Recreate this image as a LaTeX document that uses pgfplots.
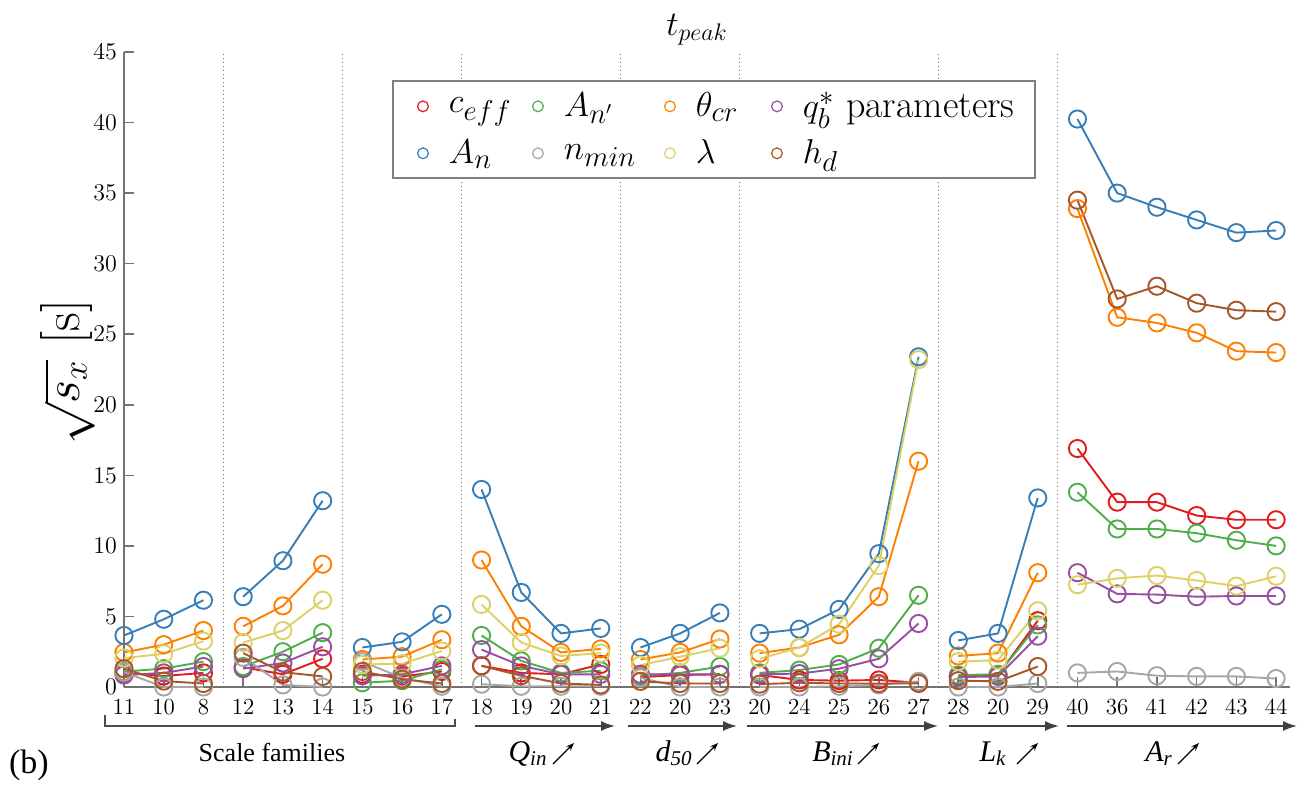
\documentclass[border=0pt]{standalone}
\usepackage{fontspec}
\usepackage{pgfplots}
\usepackage{pgfplotstable}
\pgfplotsset{compat=1.18}
\usetikzlibrary{arrows.meta}
\newfontfamily\timesfont{Liberation Serif}

\definecolor{cRed}{HTML}{E41A1C}
\definecolor{cBlue}{HTML}{377EB8}
\definecolor{cGreen}{HTML}{4DAF4A}
\definecolor{cGray}{HTML}{A6A6A6}
\definecolor{cOrange}{HTML}{FF7F00}
\definecolor{cYellow}{HTML}{DCD066}
\definecolor{cPurple}{HTML}{984EA3}
\definecolor{cBrown}{HTML}{A65628}

% legend text: fixed-width boxes so the four columns line up
\newcommand\LF[2]{\makebox[#1][l]{\fontsize{19}{22}\selectfont #2}}

% sqrt(s_x) of t_peak per parameter; nan rows separate the run groups
\pgfplotstableread{
x    ceff   An     Anp    nmin   theta  lambda qb     hd
0    1.00   3.65   1.10   1.05   2.45   2.05   0.85   1.30
1    0.78   4.80   1.30   0.00   3.00   2.35   1.00   0.42
2    1.00   6.15   1.80   0.00   4.00   3.25   1.45   0.25
2.5  nan    nan    nan    nan    nan    nan    nan    nan
3    1.40   6.40   1.45   2.10   4.30   3.15   1.30   2.40
4    0.90   8.95   2.50   0.15   5.75   4.00   1.70   1.05
5    2.00   13.20  3.85   0.00   8.70   6.15   2.85   0.75
5.5  nan    nan    nan    nan    nan    nan    nan    nan
6    0.90   2.80   0.30   1.80   1.95   1.60   0.80   1.10
7    0.75   3.20   0.45   0.65   2.15   1.65   0.90   0.55
8    1.10   5.15   1.25   0.05   3.35   2.55   1.50   0.25
8.5  nan    nan    nan    nan    nan    nan    nan    nan
9    1.50   14.00  3.65   0.20   9.00   5.85   2.65   1.50
10   1.00   6.70   1.85   0.05   4.30   3.15   1.50   0.80
11   0.90   3.80   1.00   0.05   2.45   2.20   0.90   0.25
12   1.60   4.15   1.15   0.05   2.70   2.40   0.90   0.15
12.5 nan    nan    nan    nan    nan    nan    nan    nan
13   0.70   2.80   0.80   0.65   1.95   1.55   0.90   0.40
14   0.85   3.80   1.00   0.00   2.45   2.15   0.90   0.25
15   0.90   5.25   1.45   0.00   3.40   2.75   0.90   0.25
15.5 nan    nan    nan    nan    nan    nan    nan    nan
16   0.85   3.80   1.00   0.00   2.40   2.00   0.90   0.20
17   0.50   4.10   1.20   0.00   2.80   2.80   0.95   0.30
18   0.45   5.50   1.60   0.05   3.70   4.45   1.30   0.25
19   0.50   9.45   2.75   0.15   6.40   8.60   2.00   0.25
20   0.30   23.40  6.50   0.40   16.00  23.20  4.50   0.25
20.5 nan    nan    nan    nan    nan    nan    nan    nan
21   0.75   3.30   0.85   0.00   2.20   1.80   0.70   0.45
22   0.85   3.80   0.90   0.00   2.40   1.90   0.75   0.40
23   4.70   13.40  4.40   0.25   8.10   5.40   3.60   1.45
23.5 nan    nan    nan    nan    nan    nan    nan    nan
24   16.90  40.25  13.80  1.00   33.90  7.25   8.10   34.50
25   13.10  35.00  11.20  1.10   26.20  7.70   6.60   27.50
26   13.10  34.00  11.20  0.80   25.80  7.90   6.55   28.40
27   12.15  33.10  10.90  0.75   25.10  7.55   6.40   27.20
28   11.85  32.20  10.40  0.75   23.80  7.15   6.45   26.70
29   11.85  32.35  10.00  0.60   23.70  7.85   6.45   26.60
}\tpeak

\begin{document}
\begin{tikzpicture}
\begin{axis}[
  name=ax,
  at={(0,0)}, anchor=south west,
  scale only axis, width=583pt, height=317.5pt,
  xmin=0, xmax=29.35, ymin=0, ymax=45,
  axis x line*=bottom, axis y line*=left,
  axis line style={draw=black!55, line width=0.8pt},
  xtick={0,...,29},
  xticklabels={11,10,8,12,13,14,15,16,17,18,19,20,21,22,20,23,20,24,25,26,27,28,20,29,40,36,41,42,43,44},
  ytick={0,5,...,45},
  tick align=inside,
  major tick length=5pt,
  tick style={draw=black!55, line width=0.8pt},
  tick label style={font=\fontsize{11.5}{13}\selectfont},
  xticklabel style={yshift=-2.5pt},
  clip=false,
  unbounded coords=jump,
  every axis plot/.append style={line width=0.95pt, mark=o, mark size=4.3pt, mark options={solid}},
  legend columns=4,
  legend cell align=left,
  legend style={at={(0.2299,0.956)}, anchor=north west, draw=black!50,
    line width=0.9pt, fill=white, font=\fontsize{19}{22}\selectfont,
    inner xsep=3pt, inner ysep=3.5pt, column sep=0pt, row sep=5.5pt,
    nodes={inner xsep=0pt, inner ysep=2pt}},
  legend image code/.code={
    \path[draw=none] (-12pt,0pt) -- (13pt,0pt);
    \draw[#1, only marks, mark size=2.7pt, line width=0.6pt] plot coordinates {(0pt,0pt)};},
]
% group separators
\pgfplotsinvokeforeach{2.5,5.5,8.5,12.5,15.5,20.5,23.5}{
  \draw[black!60, line width=0.7pt, dash pattern=on 0.6pt off 1.4pt] (axis cs:#1,0) -- (axis cs:#1,45);
}
\addplot[cRed]    table[x=x, y=ceff]   {\tpeak}; \addlegendentry{\LF{32.5pt}{$c_{eff}$}}
\addplot[cGreen]  table[x=x, y=Anp]    {\tpeak}; \addlegendentry{\LF{41pt}{$A_{n'}$}}
\addplot[cOrange] table[x=x, y=theta]  {\tpeak}; \addlegendentry{\LF{28.5pt}{$\theta_{cr}$}}
\addplot[cPurple] table[x=x, y=qb]     {\tpeak}; \addlegendentry{\LF{113pt}{$q_b^*$ parameters}}
\addplot[cBlue]   table[x=x, y=An]     {\tpeak}; \addlegendentry{\LF{32.5pt}{$A_n$}}
\addplot[cGray]   table[x=x, y=nmin]   {\tpeak}; \addlegendentry{\LF{41pt}{$n_{min}$}}
\addplot[cYellow] table[x=x, y=lambda] {\tpeak}; \addlegendentry{\LF{28.5pt}{$\lambda$}}
\addplot[cBrown]  table[x=x, y=hd]     {\tpeak}; \addlegendentry{\LF{113pt}{$h_d$}}
\end{axis}

% annotations in pixel-like units
\begin{scope}[shift={(ax.south west)}, xshift=-62pt, yshift=343.5pt, x=0.5pt, y=-0.5pt]
  \path (0,0) rectangle (1304,785);
  \node[font=\fontsize{18}{22}\selectfont] at (697,30) {$t_{peak}$};
  \node[rotate=90, font=\fontsize{26}{30}\selectfont, inner sep=1pt] at (68,372) {$\sqrt{s_x}$ [s]};
  \node[font=\timesfont\fontsize{17}{20}\selectfont] at (29,765) {(b)};
  % bracket for the scale families
  \draw[black!70, line width=0.8pt] (105,715) -- (105,726) -- (455,726) -- (455,719);
  \node[font=\timesfont\fontsize{13}{16}\selectfont] at (272,752) {Scale families};
  % parameter arrows
  \begin{scope}[black!75, line width=0.9pt, -{Latex[length=7pt,width=5pt]}]
    \draw (475,726) -- (615,726);
    \draw (628,726) -- (737,726);
    \draw (747,726) -- (938,726);
    \draw (949,726) -- (1059,726);
    \draw (1067,726) -- (1297,726);
  \end{scope}
  \begin{scope}[font=\timesfont\itshape\fontsize{15}{18}\selectfont]
    \node[anchor=base] at (528,761) {Q\textsubscript{in}};
    \node[anchor=base] at (674,761) {d\textsubscript{50}};
    \node[anchor=base] at (833,761) {B\textsubscript{ini}};
    \node[anchor=base] at (993,761) {L\textsubscript{k}};
    \node[anchor=base] at (1159,761) {A\textsubscript{r}};
  \end{scope}
  \begin{scope}[black, line width=0.6pt, -{Stealth[length=4pt,width=3pt]}]
    \draw (553,764) -- (574,743);
    \draw (697,764) -- (718,743);
    \draw (858,764) -- (879,743);
    \draw (1017,764) -- (1038,743);
    \draw (1178,764) -- (1199,743);
  \end{scope}
\end{scope}
\end{tikzpicture}
\end{document}
